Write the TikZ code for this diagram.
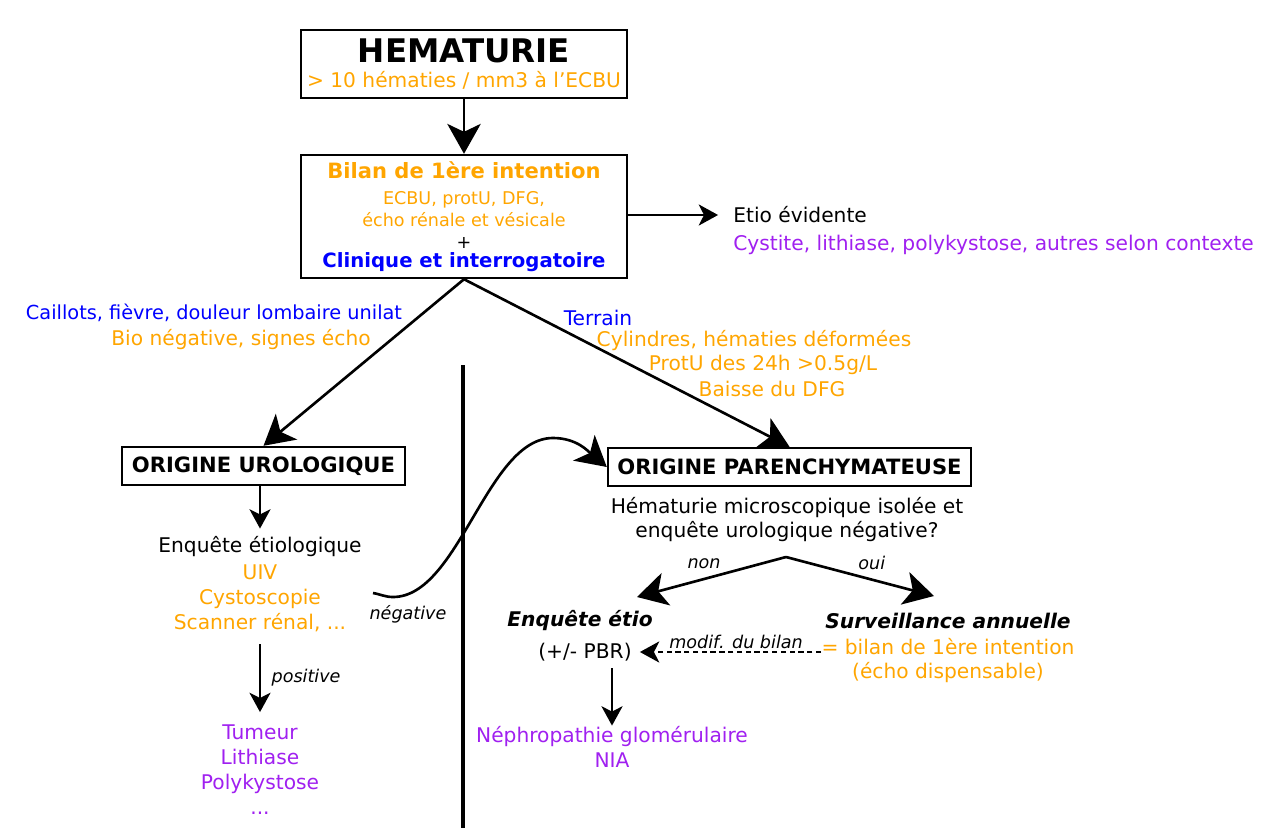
\documentclass[tikz,border=0pt]{standalone}
\usepackage{fontspec}
\setmainfont{DejaVu Sans}
\usepackage{xcolor}
\usetikzlibrary{positioning, arrows.meta}

\definecolor{orangeT}{RGB}{255,165,0}
\definecolor{purpleT}{RGB}{160,32,240}
\definecolor{blueT}{RGB}{0,0,255}

\begin{document}
\begin{tikzpicture}[
        x=0.02cm, y=-0.02cm,
        box/.style={draw, line width=1.4pt, align=center, inner sep=0pt},
        txt/.style={align=center, inner sep=0pt, font=\fontsize{11.5}{14.2}\selectfont},
        lab/.style={inner sep=0pt, font=\fontsize{10}{12}\selectfont\itshape},
        bigarr/.style={line width=1.5pt, -{Stealth[length=17pt, width=19pt, inset=4.5pt]}},
        smallarr/.style={line width=1.2pt, -{Stealth[length=11pt, width=12pt, inset=3pt]}},
    ]
    \useasboundingbox (0,0) rectangle (1284,828);

    % boxes
    \node[box, minimum width=6.52cm, minimum height=1.36cm, font=\fontsize{11.5}{14}\selectfont] (hema) at (464,64)
        {{\fontsize{18.5}{20}\selectfont\bfseries HEMATURIE}\\{\color{orangeT}> 10 hématies / mm3 à l'ECBU}};
    \node[box, minimum width=6.52cm, minimum height=2.46cm, font=\fontsize{10}{12.5}\selectfont] (bilan) at (464,216.5)
        {{\fontsize{12}{14}\selectfont\bfseries\color{orangeT}Bilan de 1ère intention}\\[2.2pt]
         {\color{orangeT}ECBU, protU, DFG,}\\{\color{orangeT}écho rénale et vésicale}\\+\\[-1.7pt]
         {\fontsize{11.2}{13}\selectfont\bfseries\color{blueT}Clinique et interrogatoire}};
    \node[box, minimum width=5.66cm, minimum height=0.76cm, font=\fontsize{12}{14}\selectfont\bfseries] (uro) at (263.5,466) {ORIGINE UROLOGIQUE};
    \node[box, minimum width=7.26cm, minimum height=0.76cm, font=\fontsize{12}{14}\selectfont\bfseries] (paren) at (789.5,467) {ORIGINE PARENCHYMATEUSE};

    % texts
    \node[txt, anchor=west] (etio) at (733,215) {Etio évidente};
    \node[txt, anchor=west, text=purpleT] (cyst) at (733,245) {Cystite, lithiase, polykystose, autres selon contexte};
    \node[txt, text=blueT, font=\fontsize{11}{14}\selectfont] (caill) at (214,313) {Caillots, fièvre, douleur lombaire unilat};
    \node[txt, text=orangeT] (bio) at (241,340) {Bio négative, signes écho};
    \node[txt, text=blueT] (terr) at (598,318) {Terrain};
    \node[txt, text=orangeT] (cyl) at (754,341) {Cylindres, hématies déformées};
    \node[txt, text=orangeT] (prot) at (763,365) {ProtU des 24h >0.5g/L};
    \node[txt, text=orangeT] (dfg) at (772,389) {Baisse du DFG};
    \node[txt] (enq) at (260,547) {Enquête étiologique};
    \node[txt, text=orangeT] (exam) at (260,598) {UIV\\Cystoscopie\\Scanner rénal, ...};
    \node[txt, text=purpleT] (tum) at (260,769.5) {Tumeur\\Lithiase\\Polykystose\\...};
    \node[lab] (neglab) at (408,614) {négative};
    \node[txt] (quest) at (787,519.5) {Hématurie microscopique isolée et\\enquête urologique négative?};
    \node[txt, font=\fontsize{11.5}{14.2}\selectfont\bfseries\itshape] (etq) at (580,621) {Enquête étio};
    \node[txt] (pbr) at (585,652) {(+/- PBR)};
    \node[txt, font=\fontsize{11.5}{14.2}\selectfont\bfseries\itshape] (surv) at (948,621) {Surveillance annuelle};
    \node[txt, text=orangeT] (survb) at (948,660.5) {= bilan de 1ère intention\\(écho dispensable)};
    \node[txt, text=purpleT] (nephro) at (612,746.5) {Néphropathie glomérulaire\\NIA};

    \coordinate (fork) at (786,557);
    \coordinate (nontip) at (637,597);
    \coordinate (ouitip) at (934,596);
    \coordinate (negst) at (373,593);
    \coordinate (trough) at (393,597);
    \coordinate (peak) at (553,438);
    \coordinate (sepT) at (463,365);
    \coordinate (sepB) at (463,828);

    % connectors
    \draw[bigarr] (hema) -- (bilan);
    \draw[smallarr, shorten >=8.5pt] (bilan.east |- etio.west) -- (etio.west);
    \draw[bigarr] (bilan.south) -- (uro.north);
    \draw[bigarr] (bilan.south) -- (paren.north);
    \draw[smallarr, shorten >=4.5pt] (uro.south -| enq) -- (enq.north);
    \draw[smallarr, shorten <=7pt, shorten >=7pt] (exam.south) -- node[lab, right=6pt] {positive} (tum.north);
    \draw[bigarr] (negst) to[out=-10, in=180] (trough) to[out=0, in=180, looseness=0.75] (peak) to[out=0, in=140] (paren.west);
    \draw[line width=2.4pt] (sepT) -- (sepB);
    \draw[bigarr] (fork) -- node[lab, pos=0.55, above=5pt] {non} (nontip);
    \draw[bigarr] (fork) -- node[lab, pos=0.58, above=5pt] {oui} (ouitip);
    \draw[smallarr, dashed, dash pattern=on 3pt off 2pt, shorten >=4.5pt] (survb.west |- pbr) -- node[lab, pos=0.45, above=1pt] {modif. du bilan} (pbr.east);
    \draw[smallarr, shorten <=4pt] (pbr.south -| nephro.north) -- (nephro.north);
\end{tikzpicture}
\end{document}
